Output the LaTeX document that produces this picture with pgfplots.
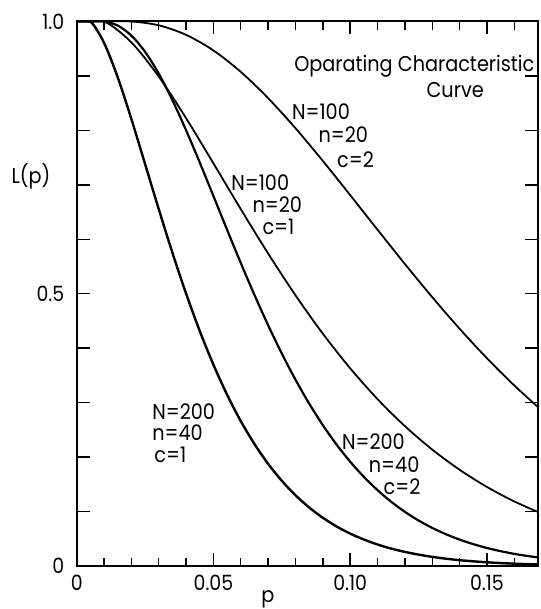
\documentclass[border=0pt]{standalone}
\usepackage{fontspec}
\setmainfont{Poppins}[FakeStretch=0.9]
\usepackage{pgfplots}
\usepackage{pgfplotstable}
\pgfplotsset{compat=1.18}

\pgfplotstableread{
p L
0 1
0.01 1
0.02 0.9616
0.03 0.8990
0.04 0.8224
0.05 0.7395
0.06 0.6554
0.07 0.5739
0.08 0.4972
0.09 0.4267
0.10 0.3631
0.11 0.3065
0.12 0.2569
0.13 0.2138
0.14 0.1768
0.15 0.1452
0.16 0.1186
0.17 0.0963
}\NhundredCone

\pgfplotstableread{
p L
0 1
0.01 1
0.02 1
0.03 0.9930
0.04 0.9755
0.05 0.9468
0.06 0.9075
0.07 0.8592
0.08 0.8040
0.09 0.7440
0.10 0.6812
0.11 0.6176
0.12 0.5547
0.13 0.4938
0.14 0.4358
0.15 0.3816
0.16 0.3316
0.17 0.2859
}\NhundredCtwo

\pgfplotstableread{
p L
0 1
0.005 1
0.010 0.9608
0.015 0.8975
0.020 0.8208
0.025 0.7383
0.030 0.6554
0.035 0.5753
0.040 0.5003
0.045 0.4316
0.050 0.3696
0.055 0.3145
0.060 0.2661
0.065 0.2240
0.070 0.1876
0.075 0.1565
0.080 0.1299
0.085 0.1075
0.090 0.0886
0.095 0.0727
0.100 0.0595
0.105 0.0486
0.110 0.0395
0.115 0.0320
0.120 0.0259
0.125 0.0209
0.130 0.0168
0.135 0.0134
0.140 0.0107
0.145 0.0086
0.150 0.0068
0.155 0.0054
0.160 0.0043
0.165 0.0034
0.170 0.0027
}\NtwohundredCone

\pgfplotstableread{
p L
0 1
0.005 1
0.010 1
0.015 0.9925
0.020 0.9741
0.025 0.9444
0.030 0.9043
0.035 0.8555
0.040 0.8003
0.045 0.7410
0.050 0.6794
0.055 0.6174
0.060 0.5565
0.065 0.4978
0.070 0.4422
0.075 0.3902
0.080 0.3422
0.085 0.2983
0.090 0.2587
0.095 0.2232
0.100 0.1916
0.105 0.1637
0.110 0.1393
0.115 0.1180
0.120 0.0995
0.125 0.0836
0.130 0.0700
0.135 0.0584
0.140 0.0485
0.145 0.0402
0.150 0.0331
0.155 0.0273
0.160 0.0223
0.165 0.0183
0.170 0.0149
}\NtwohundredCtwo

\begin{document}
\begin{tikzpicture}
\begin{axis}[
  scale only axis,
  width=230.4pt, height=272.25pt,
  xmin=0, xmax=0.1685, ymin=0, ymax=1,
  xtick={0,0.05,0.1,0.15},
  xticklabels={0,0.05,0.10,0.15},
  minor xtick={0.01,0.02,0.03,0.04,0.06,0.07,0.08,0.09,0.11,0.12,0.13,0.14,0.16},
  ytick={0,0.1,0.2,0.3,0.4,0.5,0.6,0.7,0.8,0.9,1},
  yticklabels={0,,,,,0.5,,,,,1.0},
  major tick length=6.5pt,
  minor tick length=4.2pt,
  every tick/.style={black, line width=0.7pt},
  axis line style={line width=1pt},
  tick label style={font=\fontsize{10.5}{12}\selectfont, inner sep=0pt},
  /pgf/number format/assume math mode=true,
  yticklabel style={xshift=-6pt},
  xticklabel style={yshift=-4.3pt},
  xlabel={p},
  ylabel={L(p)},
  every axis x label/.style={at={(axis description cs:0.415,0)},anchor=center,inner sep=0pt,yshift=-16.5pt,font=\fontsize{10.7}{12}\selectfont},
  every axis y label/.style={at={(axis description cs:0,0.715)},anchor=center,inner sep=0pt,xshift=-22.85pt,font=\fontsize{10.7}{12}\selectfont},
]
\addplot[black, line width=1.2pt, smooth] table[x=p,y=L] {\NtwohundredCone};
\addplot[black, line width=1.1pt, smooth] table[x=p,y=L] {\NtwohundredCtwo};
\addplot[black, line width=0.9pt, smooth] table[x=p,y=L] {\NhundredCone};
\addplot[black, line width=0.9pt, smooth] table[x=p,y=L] {\NhundredCtwo};

\begin{scope}[every node/.style={anchor=west, inner sep=0pt, font=\fontsize{10.7}{12}\selectfont}]
\node[anchor=east] at (axis cs:0.1675,0.917) {Oparating Characteristic};
\node[anchor=center] at (axis cs:0.1384,0.875) {Curve};
\node at (axis cs:0.0786,0.8346) {N=100};
\node at (axis cs:0.0883,0.792) {n=20};
\node at (axis cs:0.0951,0.746) {c=2};
\node at (axis cs:0.0564,0.704) {N=100};
\node at (axis cs:0.0642,0.664) {n=20};
\node at (axis cs:0.0678,0.623) {c=1};
\node at (axis cs:0.0275,0.2836) {N=200};
\node at (axis cs:0.0275,0.2445) {n=40};
\node at (axis cs:0.0283,0.204) {c=1};
\node at (axis cs:0.0969,0.2285) {N=200};
\node at (axis cs:0.1067,0.1857) {n=40};
\node at (axis cs:0.1121,0.1458) {c=2};
\end{scope}
\end{axis}
\path ([xshift=-38.35pt,yshift=-21.5pt]current axis.south west) rectangle ([xshift=1.25pt,yshift=10.75pt]current axis.north east);
\end{tikzpicture}
\end{document}
